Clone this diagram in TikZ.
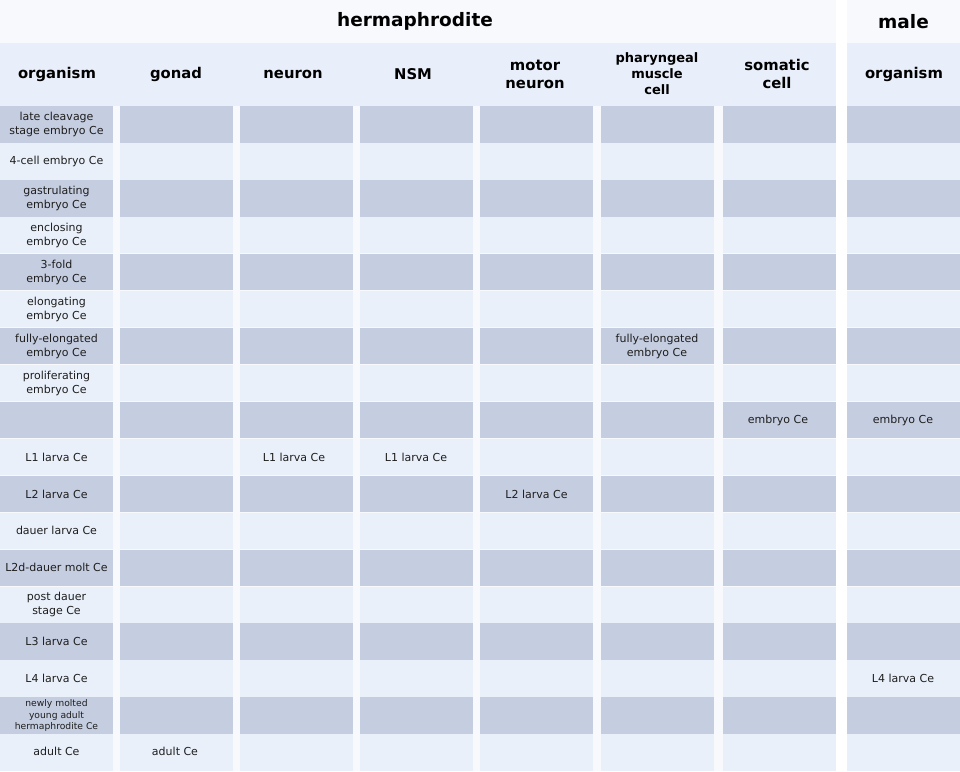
\documentclass[tikz,border=0pt]{standalone}
\usepackage{fontspec}
\setmainfont{DejaVu Sans}

\definecolor{groupbg}{HTML}{F7F9FD}
\definecolor{headbg}{HTML}{E9EFFA}
\definecolor{rowdark}{HTML}{C5CDE0}
\definecolor{rowlight}{HTML}{E9F0FA}
\definecolor{ink}{HTML}{1E1E1E}

\tikzset{
  cell/.style={align=center, inner sep=0pt, text=ink,
    font=\fontsize{11}{14}\selectfont},
  smallcell/.style={cell, font=\fontsize{9.2}{11.5}\selectfont},
  colhead/.style={align=center, inner sep=0pt,
    font=\fontsize{14.8}{18}\selectfont\bfseries},
  grouphead/.style={inner sep=0pt, font=\fontsize{18.5}{20}\selectfont\bfseries},
}

\begin{document}
\begin{tikzpicture}[x=1pt,y=-1pt]

  \newcommand\cellW{113}
  \newcommand\rowH{36.94}

  \useasboundingbox (0,0) rectangle (960,771);

  % group backgrounds and header band
  \fill[groupbg] (0,0) rectangle (836,771);
  \fill[groupbg] (847,0) rectangle (960,771);
  \fill[headbg] (0,43) rectangle (836,106);
  \fill[headbg] (847,43) rectangle (960,106);

  % striped columns
  \foreach \c in {0,120,240,360,480,600.5,723,847}{
    \foreach \r in {0,...,17}{
      \pgfmathsetmacro\rowtop{106+\r*\rowH+0.3}
      \pgfmathsetmacro\rowbot{106+(\r+1)*\rowH-0.3}
      \pgfmathsetmacro\isodd{mod(\r,2)}
      \ifdim\isodd pt=0pt
        \fill[rowdark] (\c,\rowtop) rectangle (\c+\cellW,\rowbot);
      \else
        \fill[rowlight] (\c,\rowtop) rectangle (\c+\cellW,\rowbot);
      \fi
    }
  }

  % headers
  \node[grouphead] (herm) at (415,21.5) {hermaphrodite};
  \node[grouphead] (male) at (903.5,21.5) {male};

  \node[colhead] (hOrg)    at (57,74)  {organism};
  \node[colhead] (hGonad)  at (176,74) {gonad};
  \node[colhead] (hNeuron) at (293,74) {neuron};
  \node[colhead] (hNSM)    at (413,74) {NSM};
  \node[colhead] (hMotor)  at (535,74) {motor\\neuron};
  \node[colhead, font=\fontsize{13}{16}\selectfont\bfseries]
    (hPharynx) at (657,74) {pharyngeal\\muscle\\cell};
  \node[colhead] (hSoma)   at (777,74) {somatic\\cell};
  \node[colhead] (hMaleOrg) at (904,74) {organism};

  % organism column
  \node[cell] (org1)  at (56.5,124.5) {late cleavage\\stage embryo Ce};
  \node[cell] (org2)  at (56.5,161.4) {4-cell embryo Ce};
  \node[cell] (org3)  at (56.5,198.4) {gastrulating\\embryo Ce};
  \node[cell] (org4)  at (56.5,235.3) {enclosing\\embryo Ce};
  \node[cell] (org5)  at (56.5,272.3) {3-fold\\embryo Ce};
  \node[cell] (org6)  at (56.5,309.2) {elongating\\embryo Ce};
  \node[cell] (org7)  at (56.5,346.1) {fully-elongated\\embryo Ce};
  \node[cell] (org8)  at (56.5,383.1) {proliferating\\embryo Ce};
  \node[cell] (org10) at (56.5,457.0) {L1 larva Ce};
  \node[cell] (org11) at (56.5,493.9) {L2 larva Ce};
  \node[cell] (org12) at (56.5,530.8) {dauer larva Ce};
  \node[cell] (org13) at (56.5,567.8) {L2d-dauer molt Ce};
  \node[cell] (org14) at (56.5,604.7) {post dauer\\stage Ce};
  \node[cell] (org15) at (56.5,641.7) {L3 larva Ce};
  \node[cell] (org16) at (56.5,678.6) {L4 larva Ce};
  \node[smallcell] (org17) at (56.5,715.5)
    {newly molted\\young adult\\hermaphrodite Ce};
  \node[cell] (org18) at (56.5,751.5) {adult Ce};

  % tissue columns
  \node[cell] (gonad18)  at (175,751.5) {adult Ce};
  \node[cell] (neuron10) at (294,457.0) {L1 larva Ce};
  \node[cell] (nsm10)    at (416,457.0) {L1 larva Ce};
  \node[cell] (motor11)  at (536.5,493.9) {L2 larva Ce};
  \node[cell] (pharynx7) at (657,346.1)   {fully-elongated\\embryo Ce};
  \node[cell] (soma9)    at (778,420.0) {embryo Ce};

  % male column
  \node[cell] (male9)  at (903,420.0) {embryo Ce};
  \node[cell] (male16) at (903,678.6) {L4 larva Ce};

\end{tikzpicture}
\end{document}
